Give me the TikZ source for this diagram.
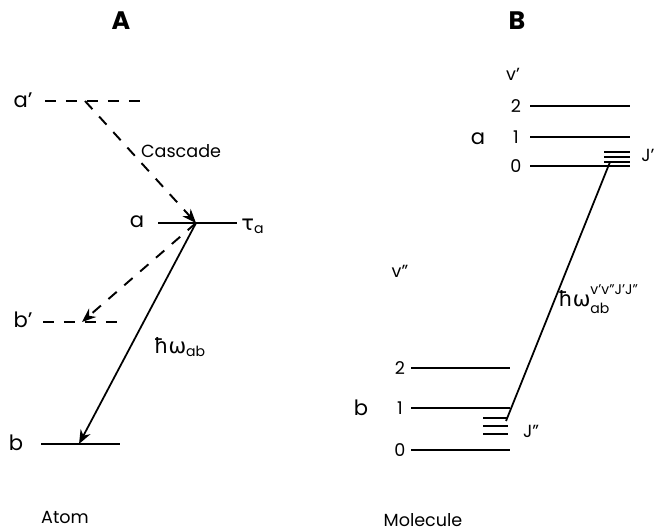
\documentclass[tikz,border=0pt]{standalone}
\usepackage{fontspec}
\setmainfont{Poppins}
\newfontfamily\grk{DejaVu Sans}
\usetikzlibrary{arrows.meta}

\begin{document}
\begin{tikzpicture}[
    x=0.02cm, y=-0.02cm,
    every node/.style={font=\large},
    level/.style={line width=1.3pt},
    vlevel/.style={line width=1.3pt, dash pattern=on 0.22cm off 0.2cm},
    sublevel/.style={line width=1.4pt},
    flow/.style={-{Stealth[length=2.8mm,width=2.2mm]}, line width=1pt},
    cascade/.style={-{Stealth[length=2.8mm,width=2.2mm]}, line width=1.1pt, dash pattern=on 0.22cm off 0.2cm},
    title/.style={font=\Large\bfseries},
    small/.style={font=\normalsize}
]
\useasboundingbox (0,0) rectangle (656,530);

% A: atom
\node[title] (tA) at (121,21) {A};
\draw[vlevel] (45,101) -- (140,101);
\draw[level] (158,223) -- (237,223);
\draw[vlevel] (43,322) -- (119,322);
\draw[level] (41,444) -- (120,444);
\node (lap) at (23,100) {a'};
\node (la) at (137,222) {a};
\node (lbp) at (23,320) {b'};
\node (lb) at (16,443) {b};
\node (tau) at (253,226) {{\grk τ}\textsubscript{a}};
\coordinate (ap) at (85,101);
\coordinate (a) at (196,223);
\coordinate (bp) at (82,322);
\coordinate (b) at (79,444);
\draw[cascade] (ap) -- (a);
\draw[cascade] (a) -- (bp);
\draw[flow] (a) -- (b);
\node[small, anchor=west, inner sep=1pt] (casc) at (139,151) {Cascade};
\node (hwA) at (180,347) {{\grk ħω}\textsubscript{ab}};
\node[small] (atom) at (65,517) {Atom};

% B: molecule
\node[title] (tB) at (517,21) {B};
\node[small] (vp) at (513,74) {v'};
\foreach \y/\v in {106/2, 137/1, 166/0} {
  \draw[level] (530,\y) -- (630,\y);
  \node[small] (vp\v) at (516,\y) {\v};
}
\node (la2) at (478,139) {a};
\foreach \y in {152,157,162}
  \draw[sublevel] (604,\y) -- (630,\y);
\node[small] (jp) at (648,155) {J'};
\node[small] (vpp) at (400,271) {v''};
\foreach \y/\v in {368/2, 408/1, 450/0} {
  \draw[level] (411,\y) -- (510,\y);
  \node[small] (vpp\v) at (400,\y) {\v};
}
\node (lb2) at (361,408) {b};
\foreach \y in {418,426,434}
  \draw[sublevel] (483,\y) -- (508,\y);
\node[small] (jpp) at (531,431) {J''};
\coordinate (up) at (610,162);
\coordinate (lo) at (506,421);
\draw[line width=1pt] (up) -- (lo);
\node[anchor=west, inner sep=1pt] (hwB) at (556,299)
  {{\grk ħω}\raisebox{-0.6ex}{\shortstack[l]{\footnotesize v'v''J'J''\\[2pt]\footnotesize ab}}};
\node[small] (mol) at (423,520) {Molecule};
\end{tikzpicture}
\end{document}
